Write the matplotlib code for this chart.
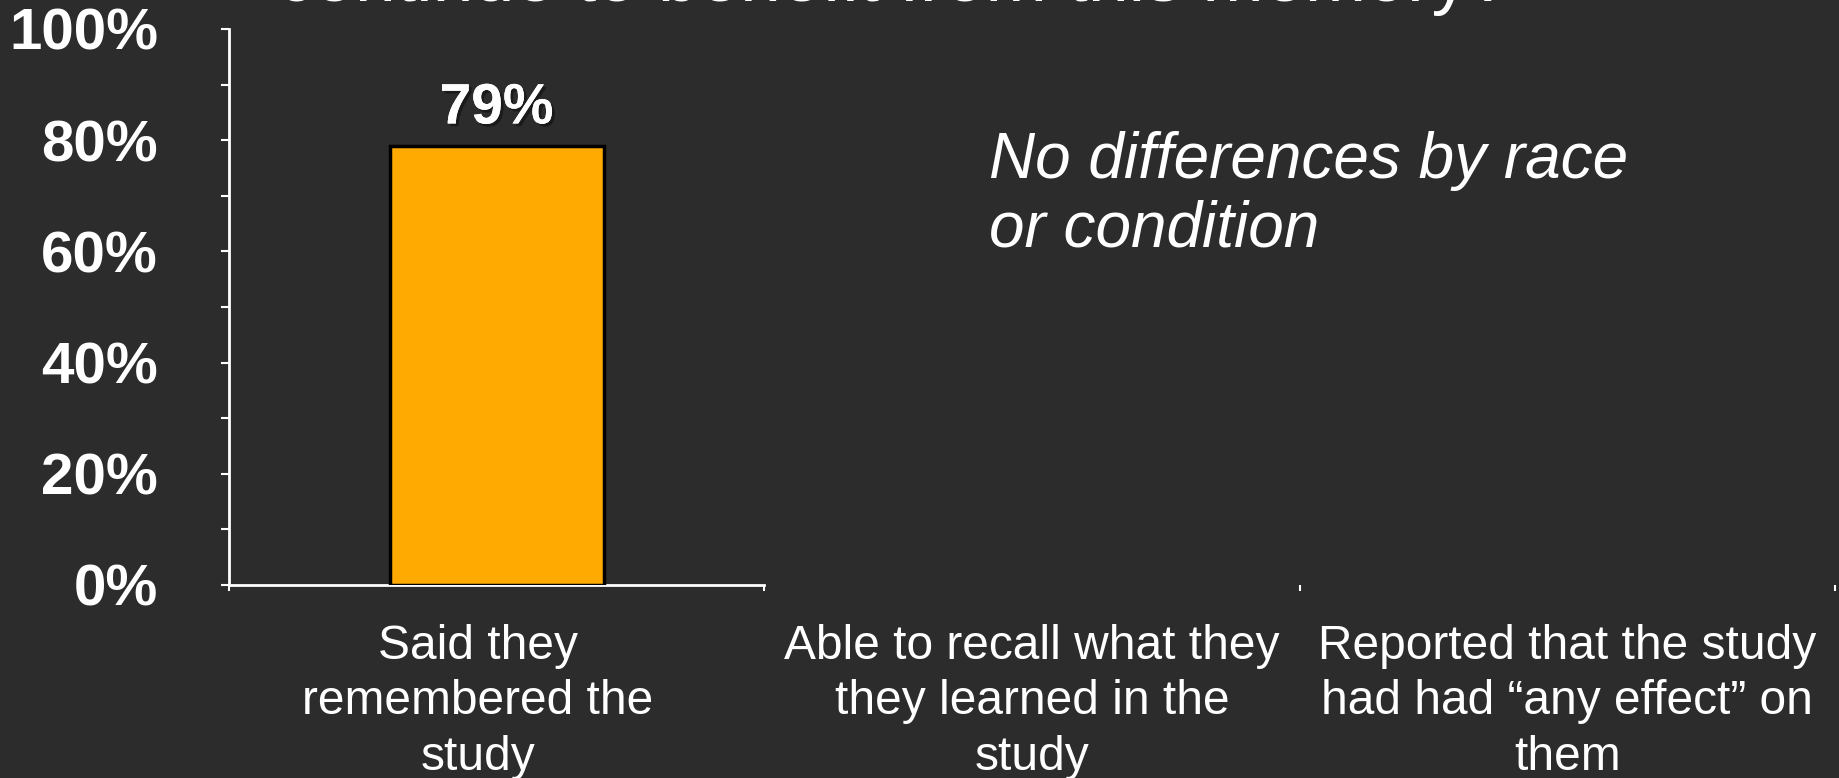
import numpy as np
import matplotlib
matplotlib.use('Agg')
from matplotlib import pyplot as plt
import matplotlib.patheffects as pe
from matplotlib.transforms import ScaledTranslation

plt.rcParams['font.family'] = ['Liberation Sans', 'DejaVu Sans']

categories = ["Said they\nremembered the\nstudy",
              "Able to recall what they\nthey learned in the\nstudy",
              "Reported that the study\nhad had \u201cany effect\u201d on\nthem"]
values = [79, np.nan, np.nan]
y_ticks = [0, 20, 40, 60, 80, 100]
y_labels = ["0%", "20%", "40%", "60%", "80%", "100%"]
title = "continue to benefit from this memory?"
note = "No differences by race\nor condition"

bg = '#2c2c2c'
fig = plt.figure(figsize=(18.39, 7.78), dpi=100, facecolor=bg)
ax = fig.add_axes([0.1245, 0.2481, 0.8733, 0.7147], facecolor=bg)

x = np.arange(len(categories))
ax.bar(x, values, width=0.4, color='#ffaa00', edgecolor='black', linewidth=2.5, zorder=3)
for xi, v in zip(x, values):
    if np.isnan(v):
        continue
    ax.text(xi, v + 4, f"{v:.0f}%", ha='center', va='baseline', color='white',
            fontsize=41, fontweight='bold',
            path_effects=[pe.withSimplePatchShadow(offset=(2, -2), shadow_rgbFace='black', alpha=0.4), pe.Normal()])

ax.set_xlim(-0.5, 2.5)
ax.set_ylim(0, 100)

for s in ['top', 'right']:
    ax.spines[s].set_visible(False)
ax.spines['left'].set_color('white')
ax.spines['left'].set_linewidth(2)
ax.spines['bottom'].set_color('white')
ax.spines['bottom'].set_linewidth(2)
ax.spines['bottom'].set_bounds(-0.5, 0.5)

ax.set_yticks(y_ticks)
ax.set_yticklabels(y_labels)
ax.set_yticks(np.arange(10, 100, 20), minor=True)
ax.tick_params(axis='y', which='both', direction='out', length=6, width=1.5, color='white',
               labelcolor='white', labelsize=42, pad=45)
for lbl in ax.get_yticklabels():
    lbl.set_fontweight('bold')

ax.set_xticks(x)
ax.set_xticklabels(categories)
ax.set_xticks([-0.5, 0.5, 1.5, 2.5], minor=True)
ax.tick_params(axis='x', which='major', length=0, labelcolor='white', labelsize=34.5, pad=28)
ax.tick_params(axis='x', which='minor', direction='out', length=4, width=1.5, color='white')
for lbl in ax.get_xticklabels():
    lbl.set_linespacing(1.3)
# first category label sits a little left of its bar
first = ax.get_xticklabels()[0]
first.set_transform(first.get_transform() + ScaledTranslation(-0.19, 0, fig.dpi_scale_trans))

fig.text(0.5378, 0.749, note, ha='left', va='center', color='white', fontsize=46,
         style='italic', linespacing=1.2)
fig.text(0.4855, 1 - 1 / 778, title, ha='center', va='baseline', color='white', fontsize=53)

fig.savefig('out.png', facecolor=bg)
